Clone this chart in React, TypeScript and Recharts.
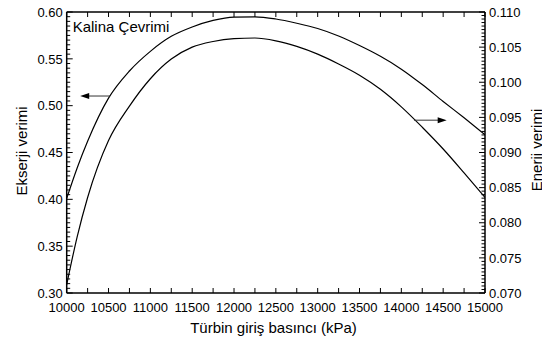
import { LineChart, Line, XAxis, YAxis, ReferenceLine } from "recharts";

const pressure = [
  10000, 10125, 10250, 10500, 10750, 11000, 11250, 11500, 11750, 12000, 12250,
  12500, 12750, 13000, 13250, 13500, 13750, 14000, 14250, 14500, 14750, 15000,
];
const exergy = [
  0.401, 0.4335, 0.462, 0.508, 0.537, 0.558, 0.574, 0.584, 0.591, 0.5945, 0.5948,
  0.5925, 0.588, 0.5824, 0.5744, 0.5642, 0.5527, 0.539, 0.5225, 0.5045, 0.487, 0.469,
];
const energy = [
  0.0712, 0.078, 0.0836, 0.0917, 0.0966, 0.1005, 0.1033, 0.105, 0.1058, 0.1062, 0.1063,
  0.1059, 0.1051, 0.104, 0.1026, 0.101, 0.099, 0.0965, 0.0936, 0.0905, 0.0871, 0.0836,
];

const xTicks = Array.from({ length: 21 }, (_, i) => 10000 + i * 250);
const xLabels = [10000, 10500, 11000, 11500, 12000, 12500, 13000, 13500, 14000, 14500, 15000];
const leftTicks = Array.from({ length: 61 }, (_, i) => +(0.3 + i * 0.005).toFixed(3));
const leftLabels = [0.3, 0.35, 0.4, 0.45, 0.5, 0.55, 0.6];
const rightTicks = Array.from({ length: 81 }, (_, i) => +(0.07 + i * 0.0005).toFixed(4));
const rightLabels = [0.07, 0.075, 0.08, 0.085, 0.09, 0.095, 0.1, 0.105, 0.11];

// arrow annotations: [from, to] in data units
const leftArrow = [
  { x: 10518, y: 0.5103 },
  { x: 10161, y: 0.5103 },
];
const rightArrow = [
  { x: 14151, y: 0.0946 },
  { x: 14542, y: 0.0946 },
];

const rows = pressure.map((p, i) => ({ p, exergy: exergy[i], energy: energy[i] }));

const FONT = "'Liberation Sans', Arial, sans-serif";
const isIn = (arr: number[], v: number) => arr.some((a) => Math.abs(a - v) < 1e-9);

const BottomTick = (props: any) => {
  const { x, y, payload } = props;
  if (!isIn(xLabels, payload.value)) return <g />;
  return (
    <text x={x} y={y + 18.7} textAnchor="middle" fontSize={13} fontFamily={FONT} fill="#000">
      {payload.value}
    </text>
  );
};

const LeftTick = (props: any) => {
  const { x, y, payload } = props;
  if (!isIn(leftLabels, payload.value)) return <g />;
  return (
    <text x={x - 4} y={y} dy="0.36em" textAnchor="end" fontSize={13} fontFamily={FONT} fill="#000">
      {payload.value.toFixed(2)}
    </text>
  );
};

const RightTick = (props: any) => {
  const { x, y, payload } = props;
  if (!isIn(rightLabels, payload.value)) return <g />;
  return (
    <text x={x + 4} y={y} dy="0.36em" textAnchor="start" fontSize={13} fontFamily={FONT} fill="#000">
      {payload.value.toFixed(3)}
    </text>
  );
};

// inward tick marks drawn from the scale positions of reference lines
const XTickMark = (props: any) => {
  const { x1, y1, y2 } = props;
  const top = Math.min(y1, y2);
  const bot = Math.max(y1, y2);
  return (
    <g>
      <line x1={x1} y1={bot} x2={x1} y2={bot - 5} stroke="#000" strokeWidth={1} />
      <line x1={x1} y1={top} x2={x1} y2={top + 5} stroke="#000" strokeWidth={1} />
    </g>
  );
};

const yTickMark = (side: "left" | "right", len: number) => (props: any) => {
  const { x1, x2, y1 } = props;
  const edge = side === "left" ? Math.min(x1, x2) : Math.max(x1, x2);
  const dir = side === "left" ? 1 : -1;
  return <line x1={edge} y1={y1} x2={edge + dir * len} y2={y1} stroke="#000" strokeWidth={1} />;
};

const Arrow = (props: any) => {
  const { x1, y1, x2, y2 } = props;
  const dir = x2 > x1 ? 1 : -1;
  return (
    <g>
      <line x1={x1} y1={y1} x2={x2 - dir * 8} y2={y2} stroke="#333" strokeWidth={1} />
      <polygon points={`${x2},${y2} ${x2 - dir * 9},${y2 - 3} ${x2 - dir * 9},${y2 + 3}`} fill="#000" />
    </g>
  );
};

const title = (value: string, x: number, y: number, angle = 0, anchor = "middle") => () => (
  <text
    x={x}
    y={y}
    textAnchor={anchor}
    fontSize={15}
    fontFamily={FONT}
    fill="#000"
    transform={angle ? `rotate(${angle} ${x} ${y})` : undefined}
  >
    {value}
  </text>
);

export default function App() {
  return (
    <div style={{ position: "relative", left: -8, top: -8 }}>
      <LineChart
        width={550}
        height={345}
        data={rows}
        margin={{ top: 11, right: 15, bottom: 7, left: 16.7 }}
        style={{ fontFamily: FONT }}
      >
        <XAxis
          xAxisId="x"
          dataKey="p"
          type="number"
          domain={[10000, 15000]}
          allowDataOverflow
          ticks={xLabels}
          interval={0}
          stroke="#000"
          tickSize={0}
          tickMargin={0}
          tickLine={false}
          tick={<BottomTick />}
          height={45}
          axisLine={{ stroke: "#000", strokeWidth: 1.5 }}
          label={{ content: title("Türbin giriş basıncı (kPa)", 273.5, 333) }}
        />
        <XAxis
          xAxisId="top"
          dataKey="p"
          orientation="top"
          type="number"
          domain={[10000, 15000]}
          allowDataOverflow
          ticks={xLabels}
          interval={0}
          stroke="#000"
          tickLine={false}
          tick={false}
          height={1}
          axisLine={{ stroke: "#000", strokeWidth: 1.5 }}
          label={{ content: title("Kalina Çevrimi", 72.7, 31.5, 0, "start") }}
        />
        <YAxis
          yAxisId="left"
          type="number"
          domain={[0.3, 0.6]}
          allowDataOverflow
          ticks={leftLabels}
          interval={0}
          stroke="#000"
          tickSize={0}
          tickMargin={0}
          tickLine={false}
          tick={<LeftTick />}
          width={50}
          axisLine={{ stroke: "#000", strokeWidth: 1.5 }}
          label={{ content: title("Ekserji verimi", 27, 151, -90) }}
        />
        <YAxis
          yAxisId="right"
          orientation="right"
          type="number"
          domain={[0.07, 0.11]}
          allowDataOverflow
          ticks={rightLabels}
          interval={0}
          stroke="#000"
          tickSize={0}
          tickMargin={0}
          tickLine={false}
          tick={<RightTick />}
          width={50}
          axisLine={{ stroke: "#000", strokeWidth: 1.5 }}
          label={{ content: title("Enerji verimi", 542, 150, -90) }}
        />
        {xTicks.map((v) => (
          <ReferenceLine key={`xt${v}`} xAxisId="x" yAxisId="left" x={v} shape={<XTickMark />} />
        ))}
        {leftTicks.map((v) => (
          <ReferenceLine
            key={`lt${v}`}
            xAxisId="x"
            yAxisId="left"
            y={v}
            shape={yTickMark("left", isIn(leftLabels, v) ? 6 : 3.5)}
          />
        ))}
        {rightTicks.map((v) => (
          <ReferenceLine
            key={`rt${v}`}
            xAxisId="x"
            yAxisId="right"
            y={v}
            shape={yTickMark("right", isIn(rightLabels, v) ? 6 : 3.5)}
          />
        ))}
        <Line
          xAxisId="x"
          yAxisId="left"
          dataKey="exergy"
          type="monotone"
          stroke="#000"
          strokeWidth={1.2}
          dot={false}
          isAnimationActive={false}
        />
        <Line
          xAxisId="x"
          yAxisId="right"
          dataKey="energy"
          type="monotone"
          stroke="#000"
          strokeWidth={1.2}
          dot={false}
          isAnimationActive={false}
        />
        <ReferenceLine xAxisId="x" yAxisId="left" segment={leftArrow} shape={<Arrow />} />
        <ReferenceLine xAxisId="x" yAxisId="right" segment={rightArrow} shape={<Arrow />} />
      </LineChart>
    </div>
  );
}
